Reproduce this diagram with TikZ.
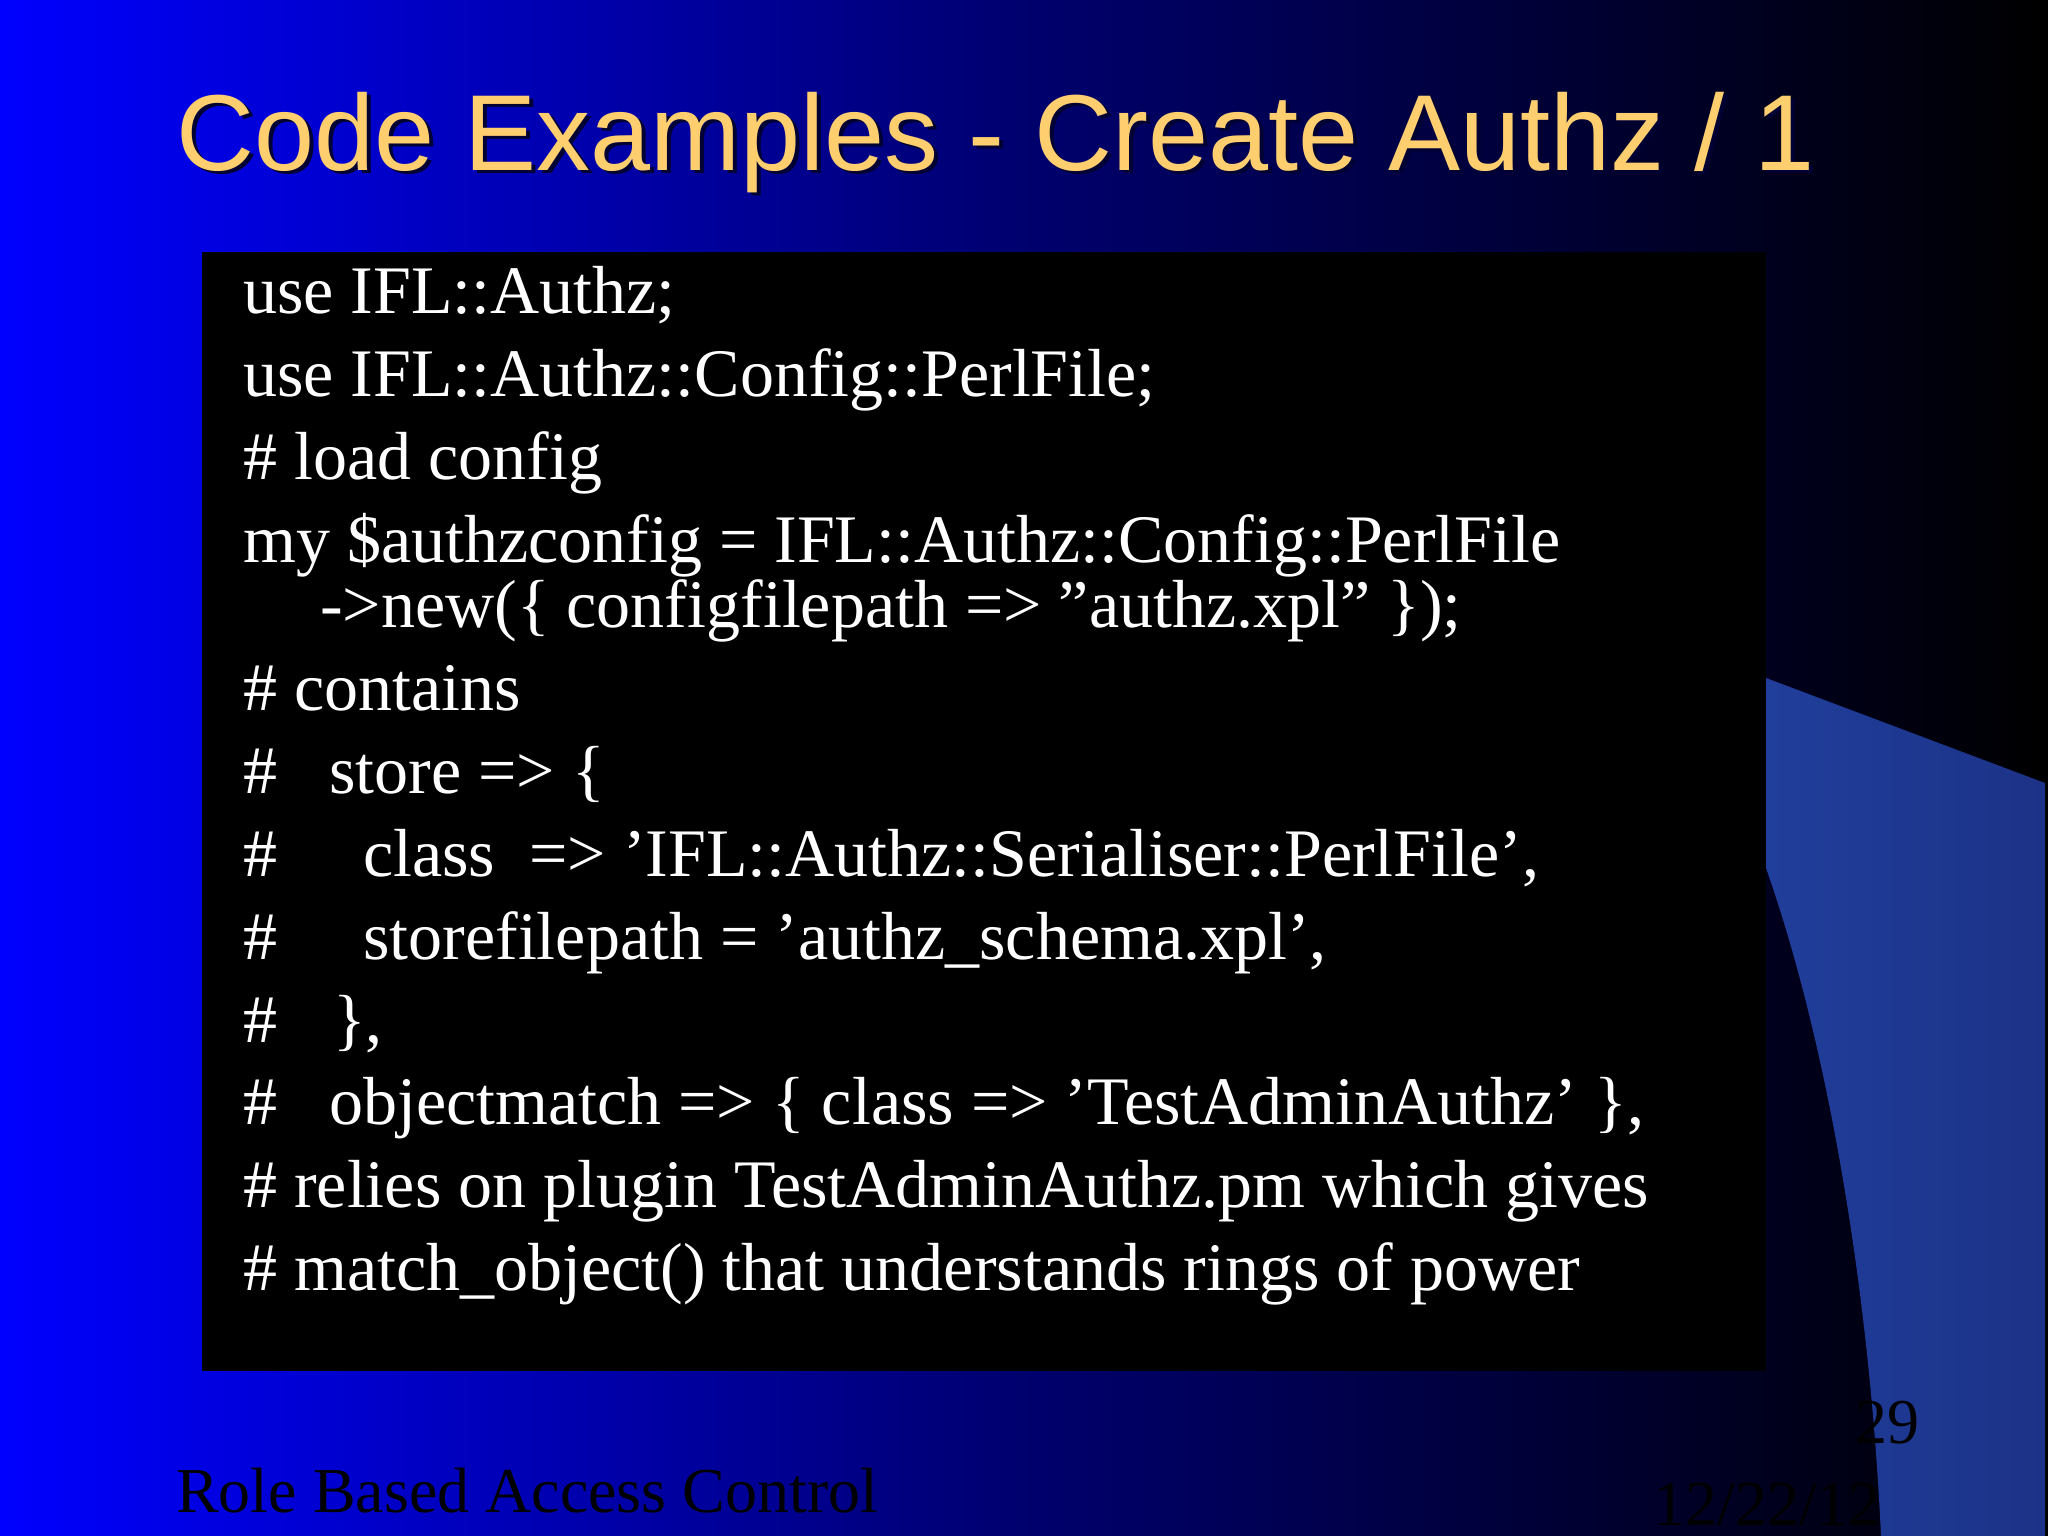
\documentclass[tikz,border=0pt]{standalone}
\usepackage{fontspec}
\setmainfont{Liberation Serif}
\newfontfamily\titlefont{Liberation Sans}
\definecolor{titlecol}{RGB}{255,206,110}
\definecolor{panel}{RGB}{32,62,155}
\begin{document}
\begin{tikzpicture}[x=1pt,y=-1pt,
  code/.style={anchor=base west,inner sep=0pt,text=white,font=\fontsize{68}{68}\selectfont},
  foot/.style={inner sep=0pt,text=black,font=\fontsize{64}{64}\selectfont}]
\useasboundingbox (0,0) rectangle (2048,1536);
\shade[left color={rgb,255:red,0;green,0;blue,255}, right color=black, middle color={rgb,255:red,0;green,0;blue,110}] (0,0) rectangle (2048,1536);
\shade[left color=panel, right color={rgb,255:red,28;green,50;blue,135}] (1766,678) -- (2045,783) -- (2045,1536) -- (1881,1536) .. controls (1870,1300) and (1830,1050) .. (1766,868) -- cycle;
\node[anchor=base west,inner sep=0pt,text=black!80!blue,font=\titlefont\fontsize{108}{108}\selectfont] at (180,174) {Code Examples - Create Authz / 1};
\node (title) [anchor=base west,inner sep=0pt,text=titlecol,font=\titlefont\fontsize{108}{108}\selectfont] at (176,170) {Code Examples - Create Authz / 1};
\fill[black] (202,252) rectangle (1766,1371);
\node (l1) [code] at (243,313) {use IFL::Authz;};
\node (l2) [code] at (243,396) {use IFL::Authz::Config::PerlFile;};
\node (l3) [code] at (243,479) {\# load config};
\node (l4) [code] at (243,562) {my \$authzconfig = IFL::Authz::Config::PerlFile};
\node (l5) [code] at (320,627) {->new(\{ configfilepath => "authz.xpl" \});};
\node (l6) [code] at (243,710) {\# contains};
\node (h7) [code] at (243,793) {\#};
\node (l7) [code] at (329,793) {store => \{};
\node (h8) [code] at (243,876) {\#};
\node (l8) [code] at (363,876) {class\ \ => 'IFL::Authz::Serialiser::PerlFile',};
\node (h9) [code] at (243,959) {\#};
\node (l9) [code] at (363,959) {storefilepath = 'authz\_schema.xpl',};
\node (h10) [code] at (243,1042) {\#};
\node (l10) [code] at (333,1042) {\},};
\node (h11) [code] at (243,1124) {\#};
\node (l11) [code] at (329,1124) {objectmatch => \{ class => 'TestAdminAuthz' \},};
\node (l12) [code] at (243,1207) {\# relies on plugin TestAdminAuthz.pm which gives};
\node (l13) [code] at (243,1290) {\# match\_object() that understands rings of power};
\node (f1) [foot,anchor=base west] at (176,1512) {Role Based Access Control};
\node (f2) [foot,anchor=base east] at (1920,1443) {29};
\node (f3) [foot,anchor=base east] at (1881,1525) {12/22/12};
\end{tikzpicture}
\end{document}
